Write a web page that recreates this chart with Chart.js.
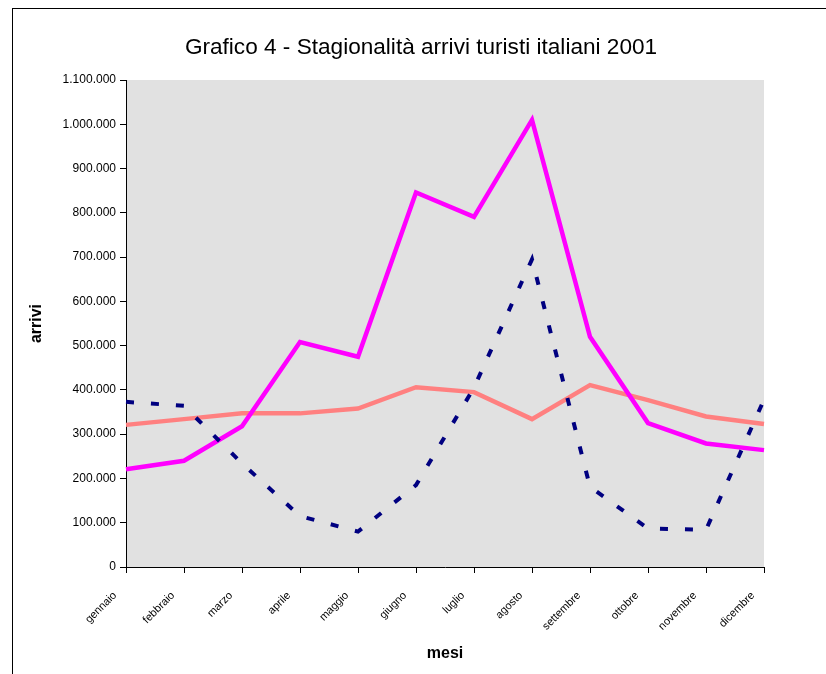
<!DOCTYPE html>
<html>
<head>
<meta charset="utf-8">
<script src="https://cdn.jsdelivr.net/npm/chart.js@4.4.1/dist/chart.umd.min.js"></script>
<style>
  html, body { margin: 0; padding: 0; background: #fff; }
  #wrap { width: 826px; height: 674px; }
</style>
</head>
<body>
<div id="wrap"><canvas id="chart" width="826" height="674"></canvas></div>
<script>
const titolo = 'Grafico 4 - Stagionalità arrivi turisti italiani 2001';

const mesi = ['gennaio', 'febbraio', 'marzo', 'aprile', 'maggio', 'giugno',
  'luglio', 'agosto', 'settembre', 'ottobre', 'novembre', 'dicembre'];

// valori (arrivi)
const serieMagenta = [221000, 240000, 318000, 508000, 475000, 846000, 791000, 1010000, 520000, 325000, 279000, 264000];
const serieSalmone = [321000, 334000, 347000, 347000, 358000, 406000, 395000, 334000, 411000, 377000, 340000, 323000];
const serieBlu = [373000, 364000, 234000, 115000, 80000, 185000, 405000, 695000, 181000, 87000, 84000, 378000];

const yMin = 0;
const yMax = 1100000;
const yStep = 100000;

const FONT = 'Liberation Sans, Arial, sans-serif';
const fmt = v => String(v).replace(/\B(?=(\d{3})+(?!\d))/g, '.');

// sfondo bianco, cornice, area grigia e titolo centrato sulla cornice
const bgPlugin = {
  id: 'bgPlugin',
  beforeDraw(chart) {
    const { ctx, chartArea: a } = chart;
    ctx.save();
    ctx.fillStyle = '#fff';
    ctx.fillRect(0, 0, chart.width, chart.height);
    ctx.strokeStyle = '#000';
    ctx.lineWidth = 1;
    ctx.strokeRect(12.5, 8.5, chart.width + 20, chart.height + 20);
    ctx.fillStyle = '#e1e1e1';
    ctx.fillRect(a.left, a.top, a.right - a.left, a.bottom - a.top);
    ctx.restore();
  },
  afterDraw(chart) {
    const ctx = chart.ctx;
    ctx.save();
    ctx.fillStyle = '#000';
    ctx.font = `22.6px ${FONT}`;
    ctx.textAlign = 'center';
    ctx.textBaseline = 'middle';
    ctx.fillText(titolo, 421, 48);
    ctx.restore();
  },
};

const ctx = document.getElementById('chart').getContext('2d');

new Chart(ctx, {
  type: 'line',
  data: {
    labels: mesi,
    datasets: [
      {
        label: 'Serie 3',
        data: serieBlu,
        borderColor: '#000080',
        borderWidth: 4,
        borderDash: [8, 17],
        pointRadius: 0,
        tension: 0,
        fill: false,
      },
      {
        label: 'Serie 1',
        data: serieMagenta,
        borderColor: '#ff00ff',
        borderWidth: 4.5,
        pointRadius: 0,
        tension: 0,
        fill: false,
      },
      {
        label: 'Serie 2',
        data: serieSalmone,
        borderColor: '#ff8080',
        borderWidth: 4.5,
        pointRadius: 0,
        tension: 0,
        fill: false,
      },
    ],
  },
  options: {
    responsive: false,
    animation: false,
    layout: {
      padding: { left: 23, right: 62, top: 80, bottom: 0 },
    },
    plugins: {
      legend: { display: false },
      tooltip: { enabled: false },
      title: { display: false },
    },
    scales: {
      x: {
        type: 'category',
        offset: false,
        afterFit: scale => { scale.height = 107; },
        border: { display: true, color: '#000', width: 1 },
        grid: { drawOnChartArea: false, drawTicks: true, tickLength: 6, color: '#000' },
        ticks: {
          autoSkip: false,
          minRotation: 45,
          maxRotation: 45,
          padding: 16,
          labelOffset: -11,
          color: '#000',
          font: { family: FONT, size: 11 },
        },
        title: {
          display: true,
          text: 'mesi',
          color: '#000',
          font: { family: FONT, size: 16, weight: 'bold', lineHeight: 1.2 },
          padding: { top: 4, bottom: 11 },
        },
      },
      y: {
        min: yMin,
        max: yMax,
        afterFit: scale => { scale.width = 103; },
        border: { display: true, color: '#000', width: 1 },
        grid: { drawOnChartArea: false, drawTicks: true, tickLength: 6, color: '#000' },
        ticks: {
          stepSize: yStep,
          padding: 4,
          color: '#000',
          font: { family: FONT, size: 12 },
          callback: v => fmt(v),
        },
        title: {
          display: true,
          text: 'arrivi',
          color: '#000',
          font: { family: FONT, size: 16, weight: 'bold', lineHeight: 1.2 },
          padding: { top: 4, bottom: 4 },
        },
      },
    },
  },
  plugins: [bgPlugin],
});
</script>
</body>
</html>
